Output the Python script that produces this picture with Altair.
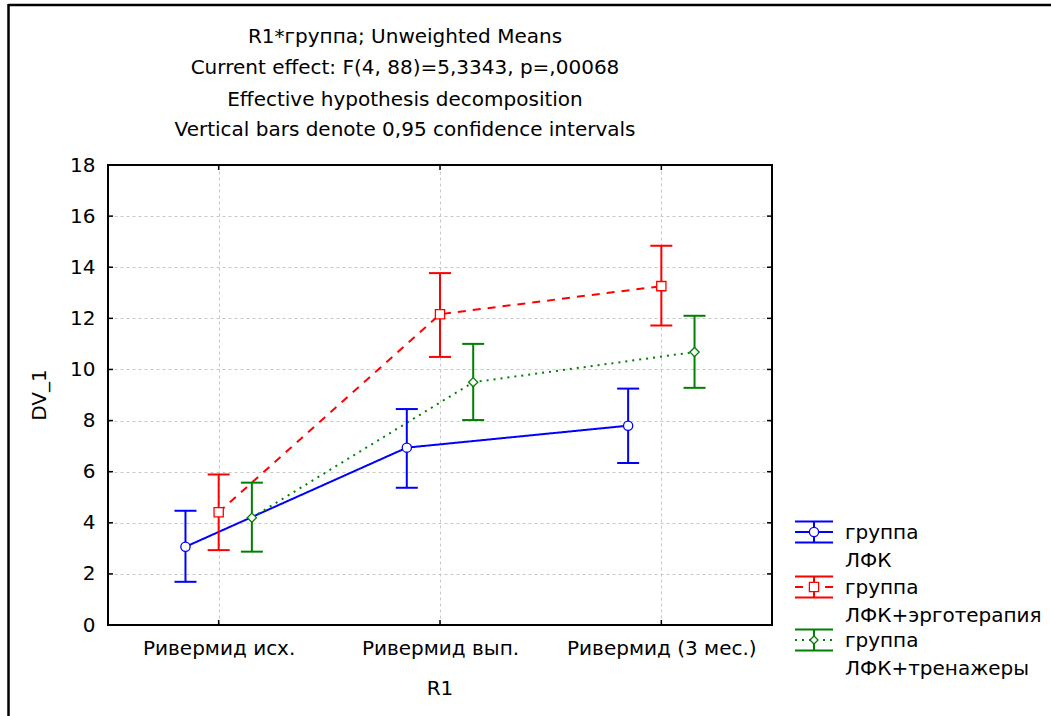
import altair as alt
import pandas as pd

# ---------------- data ----------------
categories = ["Ривермид исх.", "Ривермид вып.", "Ривермид (3 мес.)"]
group_names = ["группа ЛФК", "группа ЛФК+эрготерапия", "группа ЛФК+тренажеры"]
legend_line1 = ["группа", "группа", "группа"]
legend_line2 = ["ЛФК", "ЛФК+эрготерапия", "ЛФК+тренажеры"]

mean_lfk = [3.06, 6.94, 7.80]
low_lfk = [1.69, 5.37, 6.34]
high_lfk = [4.47, 8.45, 9.25]

mean_ergo = [4.41, 12.16, 13.26]
low_ergo = [2.93, 10.49, 11.72]
high_ergo = [5.89, 13.77, 14.84]

mean_tren = [4.20, 9.50, 10.68]
low_tren = [2.87, 8.02, 9.28]
high_tren = [5.57, 11.00, 12.10]

y_tick_values = [0, 2, 4, 6, 8, 10, 12, 14, 16, 18]
title_lines = [
    "R1*группа; Unweighted Means",
    "Current effect: F(4, 88)=5,3343, p=,00068",
    "Effective hypothesis decomposition",
    "Vertical bars denote 0,95 confidence intervals",
]
x_title = "R1"
y_title = "DV_1"

# ---------------- styles ----------------
FONT = "DejaVu Sans"
FS = 20
W, H = 664, 460
colors = ["#0000ff", "#ff0000", "#008000"]
dashes = [[1, 0], [8, 7], [2, 5]]
shapes = ["circle", "square", "diamond"]
sizes = [85, 85, 64]
group_offset = 0.15

means = [mean_lfk, mean_ergo, mean_tren]
lows = [low_lfk, low_ergo, low_tren]
highs = [high_lfk, high_ergo, high_tren]

rows = []
for gi, g in enumerate(group_names):
    for ci, c in enumerate(categories):
        rows.append(dict(group=g, category=c, ci=ci, gi=gi,
                         mean=means[gi][ci], lo=lows[gi][ci], hi=highs[gi][ci]))
df = pd.DataFrame(rows)

cat_pos = [i + 0.5 for i in range(len(categories))]
label_expr = ("datum.value < 1 ? '%s' : datum.value < 2 ? '%s' : '%s'"
              % tuple(categories))


def X(field="xpos"):
    return alt.X(f"{field}:Q",
                 scale=alt.Scale(domain=[0, len(categories)], nice=False, zero=False),
                 axis=alt.Axis(values=cat_pos, labelExpr=label_expr, title=None,
                               ticks=False, domain=False, grid=True,
                               gridDash=[3, 3], gridColor="#c8c8c8", gridWidth=1,
                               labelFont=FONT, labelFontSize=FS, labelColor="black",
                               labelPadding=13, labelOverlap=False, labelFlush=False,
                               labelLimit=400))


def Y(field):
    return alt.Y(f"{field}:Q",
                 scale=alt.Scale(domain=[0, 18], nice=False, zero=True),
                 axis=alt.Axis(values=y_tick_values, title=None, ticks=False,
                               domain=False, grid=True, gridDash=[3, 3],
                               gridColor="#c8c8c8", gridWidth=1,
                               labelFont=FONT, labelFontSize=FS, labelColor="black",
                               labelPadding=13, labelOverlap=False))


color_enc = alt.Color("group:N", scale=alt.Scale(domain=group_names, range=colors), legend=None)

base = alt.Chart(df).transform_calculate(
    xpos=f"datum.ci + 0.5 + (datum.gi - 1) * {group_offset}"
)

lines = base.mark_line(strokeWidth=2).encode(
    x=X(), y=Y("mean"), color=color_enc,
    strokeDash=alt.StrokeDash("group:N", scale=alt.Scale(domain=group_names, range=dashes), legend=None),
    detail="group:N",
)
bars = base.mark_rule(strokeWidth=2).encode(x=X(), y=Y("lo"), y2="hi:Q", color=color_enc)
caps_lo = base.mark_point(shape="stroke", size=484, strokeWidth=2, opacity=1, filled=False).encode(
    x=X(), y=Y("lo"), color=color_enc)
caps_hi = base.mark_point(shape="stroke", size=484, strokeWidth=2, opacity=1, filled=False).encode(
    x=X(), y=Y("hi"), color=color_enc)
markers = base.mark_point(filled=True, strokeWidth=1.3, opacity=1).encode(
    x=X(), y=Y("mean"),
    fill=alt.value("white"),
    stroke=alt.Stroke("group:N", scale=alt.Scale(domain=group_names, range=colors), legend=None),
    shape=alt.Shape("group:N", scale=alt.Scale(domain=group_names, range=shapes), legend=None),
    size=alt.Size("group:N", scale=alt.Scale(domain=group_names, range=sizes), legend=None),
)

# inward ticks on all four sides
yt = alt.Chart(pd.DataFrame({"v": y_tick_values}))
xt = alt.Chart(pd.DataFrame({"t": cat_pos}))
tick_left = yt.mark_rule(color="black", strokeWidth=1.5).encode(y=Y("v"), x=alt.value(0), x2=alt.value(5))
tick_right = yt.mark_rule(color="black", strokeWidth=1.5).encode(y=Y("v"), x=alt.value(W - 5), x2=alt.value(W))
tick_bottom = xt.mark_rule(color="black", strokeWidth=1.5).encode(x=X("t"), y=alt.value(H - 5), y2=alt.value(H))
tick_top = xt.mark_rule(color="black", strokeWidth=1.5).encode(x=X("t"), y=alt.value(0), y2=alt.value(5))

one = alt.Chart(pd.DataFrame({"k": [0]}))
frame = one.mark_rect(filled=False, color="black", strokeWidth=2).encode(
    x=alt.value(0), x2=alt.value(W), y=alt.value(0), y2=alt.value(H))

# outer picture frame (top and left edges)
outer_top = one.mark_rule(color="black", strokeWidth=2.5).encode(
    x=alt.value(-99.5), x2=alt.value(960), y=alt.value(-160))
outer_left = one.mark_rule(color="black", strokeWidth=2.5).encode(
    x=alt.value(-99.5), y=alt.value(-161), y2=alt.value(570))

# titles
title_layers = []
title_y = [-122, -91, -59, -29]
for txt, ty in zip(title_lines, title_y):
    title_layers.append(one.mark_text(font=FONT, fontSize=FS, color="black", align="center",
                                      baseline="alphabetic").encode(
        x=alt.value(297), y=alt.value(ty), text=alt.value(txt)))

xtitle = one.mark_text(font=FONT, fontSize=FS, color="black", align="center",
                       baseline="alphabetic").encode(x=alt.value(W / 2), y=alt.value(530),
                                                     text=alt.value(x_title))
ytitle = one.mark_text(font=FONT, fontSize=FS, color="black", align="center",
                       baseline="alphabetic", angle=270).encode(x=alt.value(-62), y=alt.value(H / 2),
                                                                text=alt.value(y_title))

# custom legend
legend_layers = []
leg_y = [367, 422, 475]
sx0, sx1, sxc, tx = 687, 725, 706, 737
for i in range(len(group_names)):
    y0 = leg_y[i]
    col = colors[i]
    legend_layers += [
        one.mark_rule(color=col, strokeWidth=2).encode(x=alt.value(sx0), x2=alt.value(sx1), y=alt.value(y0 - 10.5)),
        one.mark_rule(color=col, strokeWidth=2).encode(x=alt.value(sx0), x2=alt.value(sx1), y=alt.value(y0 + 10.5)),
        one.mark_rule(color=col, strokeWidth=2).encode(x=alt.value(sxc), y=alt.value(y0 - 10.5), y2=alt.value(y0 + 10.5)),
        one.mark_rule(color=col, strokeWidth=2, strokeDash=dashes[i]).encode(
            x=alt.value(sx0), x2=alt.value(sx1), y=alt.value(y0)),
        one.mark_point(shape=shapes[i], size=sizes[i], filled=True, fill="white", stroke=col,
                       strokeWidth=1.3, opacity=1).encode(x=alt.value(sxc), y=alt.value(y0)),
        one.mark_text(font=FONT, fontSize=FS, color="black", align="left", baseline="alphabetic").encode(
            x=alt.value(tx), y=alt.value(y0 + 7), text=alt.value(legend_line1[i])),
        one.mark_text(font=FONT, fontSize=FS, color="black", align="left", baseline="alphabetic").encode(
            x=alt.value(tx), y=alt.value(y0 + 35), text=alt.value(legend_line2[i])),
    ]

chart = alt.layer(
    lines, bars, caps_lo, caps_hi, markers,
    tick_left, tick_right, tick_bottom, tick_top, frame,
    outer_top, outer_left, xtitle, ytitle,
    *title_layers, *legend_layers,
).properties(
    width=W, height=H,
    autosize=alt.AutoSizeParams(type="none"),
    padding={"left": 108, "top": 165, "right": 279, "bottom": 91},
    background="white",
).configure_view(strokeWidth=0)

chart.save("out.html", embed_options={"renderer": "svg", "actions": False})
